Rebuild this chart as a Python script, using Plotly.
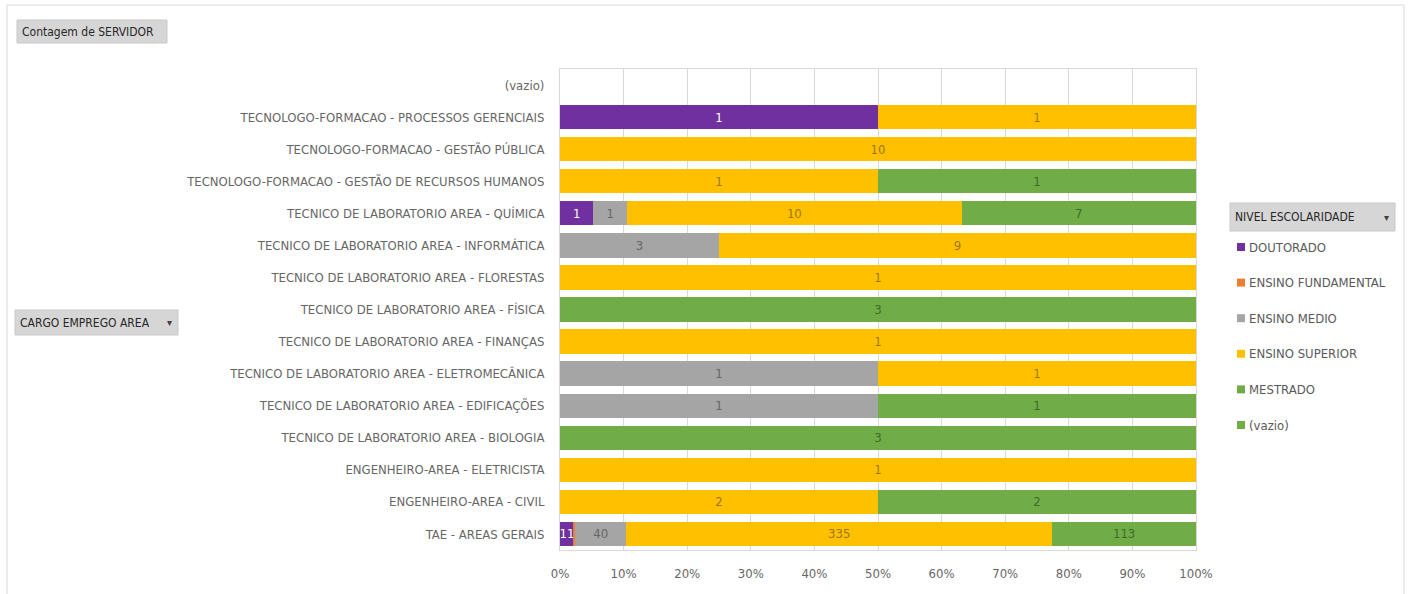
import plotly.graph_objects as go

categories = [
    "TAE - AREAS GERAIS",
    "ENGENHEIRO-AREA - CIVIL",
    "ENGENHEIRO-AREA - ELETRICISTA",
    "TECNICO DE LABORATORIO AREA - BIOLOGIA",
    "TECNICO DE LABORATORIO AREA - EDIFICAÇÕES",
    "TECNICO DE LABORATORIO AREA - ELETROMECÂNICA",
    "TECNICO DE LABORATORIO AREA - FINANÇAS",
    "TECNICO DE LABORATORIO AREA - FÍSICA",
    "TECNICO DE LABORATORIO AREA - FLORESTAS",
    "TECNICO DE LABORATORIO AREA - INFORMÁTICA",
    "TECNICO DE LABORATORIO AREA - QUÍMICA",
    "TECNOLOGO-FORMACAO - GESTÃO DE RECURSOS HUMANOS",
    "TECNOLOGO-FORMACAO - GESTÃO PÚBLICA",
    "TECNOLOGO-FORMACAO - PROCESSOS GERENCIAIS",
    "(vazio)",
]

doutorado          = [11, 0, 0, 0, 0, 0, 0, 0, 0, 0, 1, 0, 0, 1, 0]
ensino_fundamental = [1, 0, 0, 0, 0, 0, 0, 0, 0, 0, 0, 0, 0, 0, 0]
ensino_medio       = [40, 0, 0, 0, 1, 1, 0, 0, 0, 3, 1, 0, 0, 0, 0]
ensino_superior    = [335, 2, 1, 0, 0, 1, 1, 0, 1, 9, 10, 1, 10, 1, 0]
mestrado           = [113, 2, 0, 3, 1, 0, 0, 3, 0, 0, 7, 1, 0, 0, 0]
vazio              = [0] * 15

x_tick_vals = [0, 10, 20, 30, 40, 50, 60, 70, 80, 90, 100]
x_tick_text = ["0%", "10%", "20%", "30%", "40%", "50%", "60%", "70%", "80%", "90%", "100%"]

series = [
    ("DOUTORADO", doutorado, "#7030A0", "#FFFFFF", True),
    ("ENSINO FUNDAMENTAL", ensino_fundamental, "#ED7D31", "#8a4a1d", False),
    ("ENSINO MEDIO", ensino_medio, "#A5A5A5", "#666666", True),
    ("ENSINO SUPERIOR", ensino_superior, "#FFC000", "#9a7a10", True),
    ("MESTRADO", mestrado, "#70AD47", "#3e6b27", True),
    ("(vazio)", vazio, "#70AD47", "#3e6b27", False),
]

FONT = "Liberation Sans Narrow, DejaVu Sans Condensed, Arial Narrow, sans-serif"

L, R, T, B = 560, 1196, 69, 550  # plot area in pixels


def px(x):
    return (x - L) / (R - L)


def py(y):
    return (B - y) / (B - T)


fig = go.Figure()
for name, vals, color, tcolor, show_text in series:
    y = [c for c, v in zip(categories, vals) if v > 0]
    x = [v for v in vals if v > 0]
    fig.add_trace(go.Bar(
        name=name, y=y, x=x, orientation="h",
        marker=dict(color=color, line=dict(width=0)),
        text=[str(v) for v in x] if show_text else None,
        textposition="inside" if show_text else "none",
        insidetextanchor="middle",
        constraintext="none",
        textfont=dict(family=FONT, size=13, color=tcolor),
        showlegend=False,
        hoverinfo="x+y+name",
    ))

fig.update_layout(
    width=1410, height=594,
    barmode="stack", barnorm="percent",
    bargap=0.24,
    paper_bgcolor="white", plot_bgcolor="white",
    margin=dict(l=L, r=1410 - R, t=T, b=594 - B),
    font=dict(family=FONT, size=13, color="#595959"),
    xaxis=dict(
        range=[0, 100], tickvals=x_tick_vals, ticktext=x_tick_text,
        showgrid=True, gridcolor="#d9d9d9", gridwidth=1,
        zeroline=False, showline=True, linecolor="#d9d9d9", mirror=True,
        ticks="", tickfont=dict(size=13, color="#666666"),
        ticklabelstandoff=11, fixedrange=True,
    ),
    yaxis=dict(
        categoryorder="array", categoryarray=categories,
        range=[-0.5, len(categories) - 0.5],
        showgrid=False, showline=True, linecolor="#d9d9d9", mirror=True,
        ticks="", ticklabelstandoff=12,
        tickfont=dict(size=13, color="#666666"), fixedrange=True,
    ),
)

shapes = []
annotations = []

# outer frame
shapes.append(dict(type="rect", xref="paper", yref="paper",
                   x0=px(7), x1=px(1404), y0=py(610), y1=py(5),
                   line=dict(color="#d9d9d9", width=1), fillcolor="rgba(0,0,0,0)", layer="below"))


def button(x0, y0, x1, y1, label, arrow):
    shapes.append(dict(type="rect", xref="paper", yref="paper",
                       x0=px(x0), x1=px(x1), y0=py(y1), y1=py(y0),
                       fillcolor="#d6d6d6", line=dict(color="#c8c8c8", width=1)))
    annotations.append(dict(xref="paper", yref="paper", x=px(x0 + 3), y=py((y0 + y1) / 2),
                            xanchor="left", yanchor="middle", text=label, showarrow=False,
                            font=dict(family=FONT, size=12, color="#262626")))
    if arrow:
        annotations.append(dict(xref="paper", yref="paper", x=px(x1 - 9), y=py((y0 + y1) / 2),
                                xanchor="center", yanchor="middle", text="▾", showarrow=False,
                                font=dict(family="DejaVu Sans", size=10, color="#404040")))


button(17, 20, 167, 43, "Contagem de SERVIDOR", False)
button(15, 310, 178, 335, "CARGO EMPREGO AREA", True)
button(1230, 203, 1395, 231, "NIVEL ESCOLARIDADE", True)

# legend (built from the series definitions)
for i, (name, vals, color, tcolor, show_text) in enumerate(series):
    yc = 247 + i * 35.6
    shapes.append(dict(type="rect", xref="paper", yref="paper",
                       x0=px(1237), x1=px(1245), y0=py(yc + 4), y1=py(yc - 4),
                       fillcolor=color, line=dict(width=0)))
    annotations.append(dict(xref="paper", yref="paper", x=px(1247), y=py(yc),
                            xanchor="left", yanchor="middle", text=name, showarrow=False,
                            font=dict(family=FONT, size=13, color="#595959")))

fig.update_layout(shapes=shapes, annotations=annotations)
fig.write_html("out.html")
